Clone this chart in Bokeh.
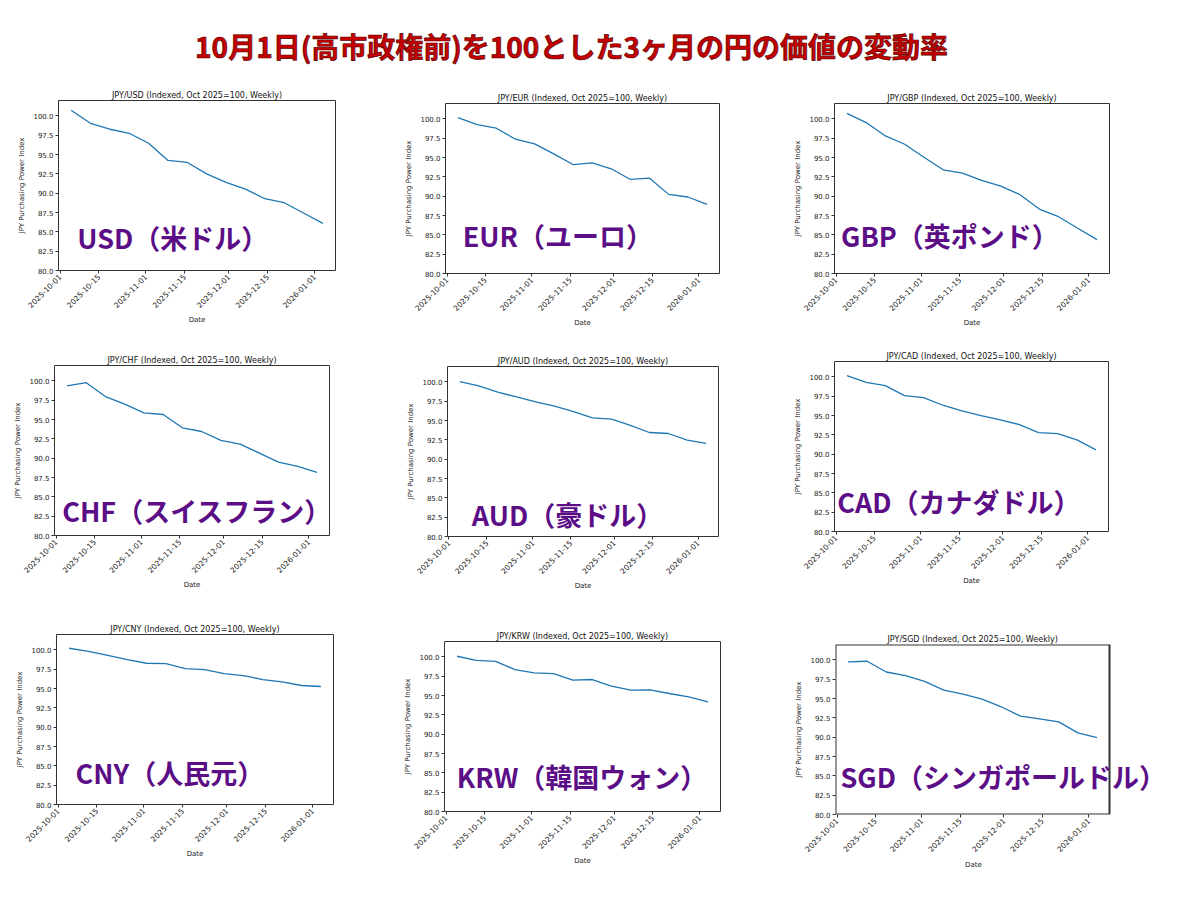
import math
import pandas as pd
from bokeh.plotting import figure
from bokeh.models import (Range1d, FixedTicker, DatetimeTickFormatter, Label, Div,
                          Spacer, NumeralTickFormatter, BoxAnnotation, Title)
from bokeh.layouts import row, column
from bokeh.embed import file_html
from bokeh.resources import INLINE

# ---------------- data ----------------
chart_title = "10月1日(高市政権前)を100とした3ヶ月の円の価値の変動率"

dates = ["2025-10-05", "2025-10-12", "2025-10-19", "2025-10-26", "2025-11-02",
         "2025-11-09", "2025-11-16", "2025-11-23", "2025-11-30", "2025-12-07",
         "2025-12-14", "2025-12-21", "2025-12-28", "2026-01-04"]

codes = ["USD", "EUR", "GBP", "CHF", "AUD", "CAD", "CNY", "KRW", "SGD"]
names = ["USD（米ドル）", "EUR（ユーロ）", "GBP（英ポンド）",
         "CHF（スイスフラン）", "AUD（豪ドル）", "CAD（カナダドル）",
         "CNY（人民元）", "KRW（韓国ウォン）", "SGD（シンガポールドル）"]

usd = [100.73, 99.05, 98.28, 97.76, 96.47, 94.24, 93.98, 92.50, 91.40, 90.54, 89.29, 88.77, 87.44, 86.10]
eur = [100.17, 99.27, 98.80, 97.38, 96.77, 95.48, 94.10, 94.32, 93.55, 92.17, 92.34, 90.24, 89.90, 88.95]
gbp = [100.73, 99.53, 97.80, 96.73, 95.05, 93.42, 92.99, 92.04, 91.31, 90.19, 88.34, 87.35, 85.85, 84.39]
chf = [99.35, 99.78, 97.98, 96.99, 95.87, 95.66, 93.94, 93.46, 92.30, 91.83, 90.67, 89.50, 88.95, 88.17]
aud = [100.04, 99.48, 98.67, 98.06, 97.42, 96.86, 96.17, 95.35, 95.18, 94.37, 93.46, 93.33, 92.47, 92.04]
cad = [100.17, 99.31, 98.88, 97.59, 97.33, 96.34, 95.60, 95.00, 94.44, 93.84, 92.80, 92.67, 91.85, 90.56]
cny = [100.22, 99.83, 99.31, 98.75, 98.28, 98.24, 97.59, 97.46, 96.95, 96.69, 96.17, 95.87, 95.40, 95.27]
krw = [100.09, 99.57, 99.44, 98.37, 97.94, 97.85, 96.99, 97.08, 96.22, 95.70, 95.74, 95.27, 94.84, 94.19]
sgd = [99.74, 99.83, 98.44, 97.97, 97.23, 96.10, 95.58, 94.94, 93.94, 92.73, 92.38, 91.99, 90.56, 89.96]

x_tick_labels = ["2025-10-01", "2025-10-15", "2025-11-01", "2025-11-15",
                 "2025-12-01", "2025-12-15", "2026-01-01"]
y_ticks = [80.0, 82.5, 85.0, 87.5, 90.0, 92.5, 95.0, 97.5, 100.0]
y_min, y_max = 80.0, 102.0

series = [usd, eur, gbp, chf, aud, cad, cny, krw, sgd]

# ---------------- layout / style ----------------
PAGE = 0
TITLE_H = 76
BL, BT, BB = 45, 24, 56
FRAME_H = 170
frame_lefts = [[58, 445, 834], [54, 447, 834], [56, 444, 835]]
frame_tops = [[100, 103, 103], [365, 366, 361], [634, 641, 644]]
frame_ws = [[277, 274, 275], [275, 271, 274], [277, 276, 274]]
border_rights = [10, 10, 20]
# label placement: (days after left edge of frame, y value)
label_pos = [(6.8, 84.3), (6.3, 84.9), (2.4, 84.9),
             (2.8, 83.2), (9.0, 82.8), (1.0, 83.9),
             (6.9, 84.2), (4.4, 84.5), (1.8, 84.9)]
overflow = {8: 70}   # extra (invisible) frame width for labels running past the box

LINE_COLOR = "#1f77b4"
LABEL_COLOR = "#5b0e86"
BOX_COLOR = "#333333"

x_vals = pd.to_datetime(dates)
span = x_vals[-1] - x_vals[0]
x_start = x_vals[0] - 0.05 * span
x_end = x_vals[-1] + 0.05 * span
DAY = 86400000.0


def ms(ts):
    return pd.Timestamp(ts).value / 1e6


tick_ms = [ms(t) for t in x_tick_labels]
fmt = "%Y-%m-%d"


def make_panel(i, fw, br):
    code = codes[i]
    extra = overflow.get(i, 0)
    x0, x1 = ms(x_start), ms(x_end)
    x1_ext = x1 + (x1 - x0) * extra / fw
    p = figure(width=BL + fw + extra + br, height=BT + FRAME_H + BB,
               x_axis_type="datetime",
               x_range=Range1d(x0, x1_ext),
               y_range=Range1d(y_min, y_max),
               output_backend="svg", toolbar_location=None,
               min_border_left=BL, min_border_right=br,
               min_border_top=BT, min_border_bottom=BB,
               background_fill_color="white", border_fill_color="white")
    ttl = f"JPY/{code} (Indexed, Oct 2025=100, Weekly)"
    p.title.text = ttl
    p.title.text_font = "DejaVu Sans"
    p.title.text_font_size = "8px"
    p.title.text_font_style = "normal"
    p.title.text_color = "#111111"
    p.title.standoff = 2
    if extra:
        p.title.align = "left"
        p.title.offset = (fw - 170) / 2
    else:
        p.title.align = "center"

    p.line(x=x_vals, y=series[i], line_color=LINE_COLOR, line_width=1.3)

    p.xgrid.visible = False
    p.ygrid.visible = False
    if extra:
        p.outline_line_color = None
        p.add_layout(BoxAnnotation(left=x0, right=x1, bottom=y_min, top=y_max,
                                   fill_alpha=0, line_color=BOX_COLOR,
                                   line_alpha=1.0, line_width=2))
    else:
        p.outline_line_color = BOX_COLOR
        p.outline_line_width = 1
        p.outline_line_alpha = 1.0

    xa = p.xaxis[0]
    xa.ticker = FixedTicker(ticks=tick_ms)
    xa.formatter = DatetimeTickFormatter(
        milliseconds=fmt, seconds=fmt, minsec=fmt, minutes=fmt, hourmin=fmt,
        hours=fmt, days=fmt, months=fmt, years=fmt)
    xa.major_label_orientation = math.pi / 4

    ya = p.yaxis[0]
    ya.ticker = FixedTicker(ticks=y_ticks)
    ya.formatter = NumeralTickFormatter(format="0.0")
    ya.axis_label = "JPY Purchasing Power Index"

    for ax in (xa, ya):
        ax.axis_line_color = None
        ax.major_tick_out = 3
        ax.major_tick_in = 0
        ax.minor_tick_line_color = None
        ax.major_tick_line_color = BOX_COLOR
        ax.major_label_text_font = "DejaVu Sans"
        ax.major_label_text_font_size = "7px"
        ax.major_label_text_color = "#222222"
        ax.major_label_standoff = 2
        ax.axis_label_text_font = "DejaVu Sans"
        ax.axis_label_text_font_size = "7px"
        ax.axis_label_text_font_style = "normal"
        ax.axis_label_text_color = "#222222"
        ax.axis_label_standoff = 4
    xa.major_label_text_font_size = "7.5px"

    if extra:
        p.add_layout(Title(text="Date", align="left", offset=(fw - 15) / 2,
                           text_font="DejaVu Sans", text_font_size="7px",
                           text_font_style="normal", text_color="#222222",
                           standoff=2), "below")
    else:
        xa.axis_label = "Date"
        xa.axis_label_standoff = 2

    dx, yv = label_pos[i]
    lab = Label(x=x0 + dx * DAY, y=yv, text=names[i],
                text_font="Noto Sans CJK JP", text_font_size="27px",
                text_font_style="bold",
                text_color=LABEL_COLOR, text_baseline="middle",
                text_align="left")
    p.add_layout(lab)
    return p, extra


title_div = Div(
    text=('<div style="width:1143px;text-align:center;font-family:\'Noto Sans CJK JP\';'
          'font-weight:bold;font-size:28px;line-height:32px;padding-top:30px;'
          'color:#c40000;-webkit-text-stroke:0.7px #5a0000;white-space:nowrap;">'
          + chart_title + '</div>'),
    width=1143, height=TITLE_H, margin=(0, 0, 0, 0))

children = [title_div]
y_cursor = PAGE + TITLE_H
for r in range(3):
    items = []
    x_cursor = PAGE
    heights = []
    for c in range(3):
        i = r * 3 + c
        fw = frame_ws[r][c]
        br = border_rights[c]
        p, extra = make_panel(i, fw, br)
        outer_left = frame_lefts[r][c] - BL
        gap = outer_left - x_cursor
        if gap > 0:
            items.append(Spacer(width=gap, height=1))
        outer_top = frame_tops[r][c] - BT
        sp = outer_top - y_cursor
        if sp > 0:
            items.append(column(Spacer(width=1, height=sp), p))
        else:
            items.append(p)
        heights.append(max(sp, 0) + BT + FRAME_H + BB)
        x_cursor = outer_left + BL + fw + extra + br
    children.append(row(*items))
    y_cursor += max(heights)

layout = column(*children)

open("out.html", "w").write(file_html(layout, INLINE, title="JPY index"))
